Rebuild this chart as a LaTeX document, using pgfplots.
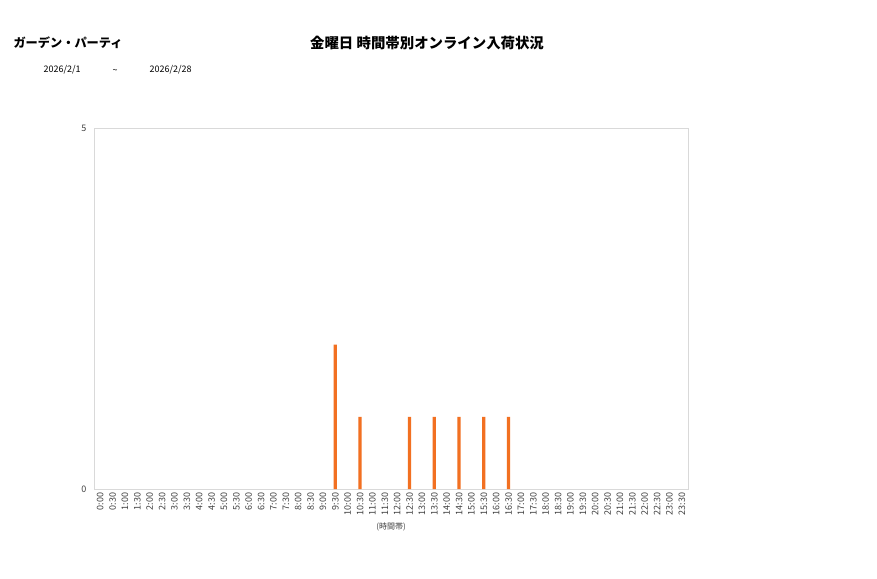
\documentclass[border=0pt]{standalone}
\usepackage{fontspec}
\setmainfont{Noto Sans CJK JP}
\usepackage{pgfplots}
\pgfplotsset{compat=1.18}

\definecolor{barorange}{RGB}{242,112,33}
\definecolor{framegray}{RGB}{217,217,217}
\definecolor{txt}{RGB}{64,64,64}

\begin{document}
\begin{tikzpicture}[x=1pt,y=1pt]
	% page frame, 877 x 578
	\path[fill=white] (0pt,0pt) rectangle (877pt,578pt);
	\node[anchor=west,font=\fontsize{12.2}{14}\selectfont\bfseries] at (10pt,535pt) {ガーデン・パーティ};
	\node[font=\fontsize{14.4}{16}\selectfont\bfseries] at (427pt,535pt) {金曜日 時間帯別オンライン入荷状況};
	\node[anchor=west,font=\fontsize{9}{10}\selectfont] at (40pt,508pt) {2026/2/1};
	\node[font=\fontsize{9}{10}\selectfont] at (115pt,507pt) {\char"007E};
	\node[anchor=west,font=\fontsize{9}{10}\selectfont] at (146pt,508pt) {2026/2/28};
	\begin{axis}[
		at={(94pt,89pt)}, anchor=south west,
		scale only axis,
		width=594pt, height=361pt,
		xmin=-0.5, xmax=47.5,
		ymin=0, ymax=5,
		ytick={0,5},
		xtick={0,...,47},
		xticklabels={0:00,0:30,1:00,1:30,2:00,2:30,3:00,3:30,4:00,4:30,5:00,5:30,6:00,6:30,7:00,7:30,8:00,8:30,9:00,9:30,10:00,10:30,11:00,11:30,12:00,12:30,13:00,13:30,14:00,14:30,15:00,15:30,16:00,16:30,17:00,17:30,18:00,18:30,19:00,19:30,20:00,20:30,21:00,21:30,22:00,22:30,23:00,23:30},
		xticklabel style={rotate=90, anchor=east, font=\fontsize{9}{10}\selectfont, text=txt},
		yticklabel style={font=\fontsize{9}{10}\selectfont, text=txt, xshift=-4pt},
		/pgf/number format/assume math mode=true,
		major tick length=0pt,
		axis line style={framegray},
		xlabel={(時間帯)},
		xlabel style={font=\fontsize{8}{9}\selectfont, text=txt, yshift=-1pt},
		]
		\addplot[ybar, bar width=3.2pt, fill=barorange, draw=none]
		coordinates {
(19,2)
(21,1)
(25,1)
(27,1)
(29,1)
(31,1)
(33,1)
};
	\end{axis}
\end{tikzpicture}
\end{document}
